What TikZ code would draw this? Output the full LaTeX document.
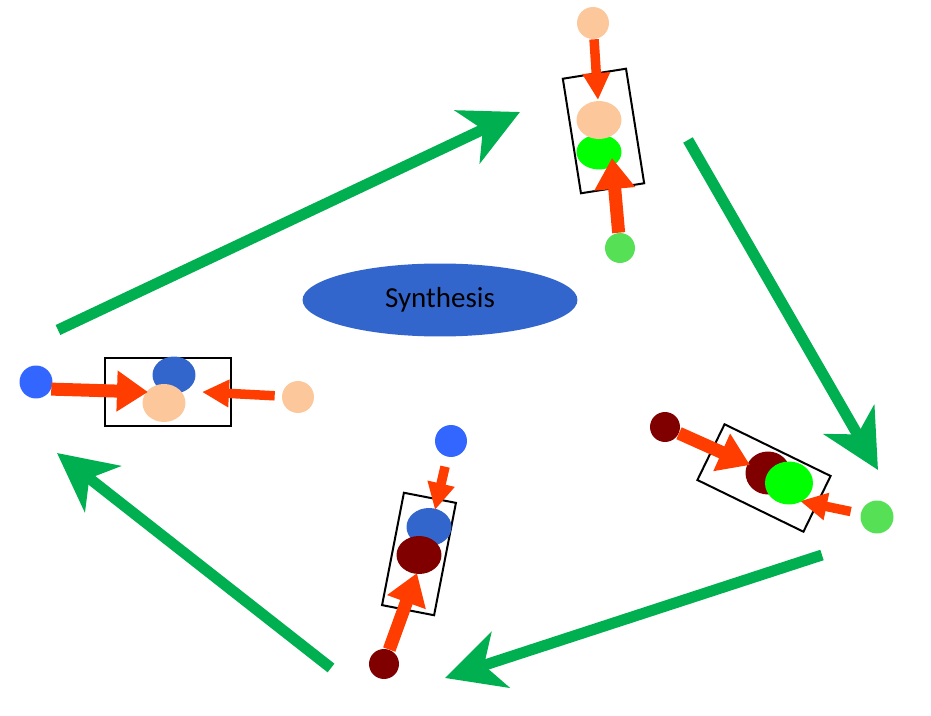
\documentclass[tikz,border=0pt]{standalone}
\usepackage{fontspec}
\setmainfont{Carlito}
\definecolor{scRed}{HTML}{FF3D00}
\definecolor{scPeach}{HTML}{FCC89B}
\definecolor{scLime}{HTML}{00FF00}
\definecolor{scLightGreen}{HTML}{55E055}
\definecolor{scBlue}{HTML}{3366FF}
\definecolor{scDeepBlue}{HTML}{3366CC}
\definecolor{scMaroon}{HTML}{800000}
\definecolor{scGreen}{HTML}{00B050}
\usetikzlibrary{arrows.meta,shapes.geometric}

\begin{document}
\begin{tikzpicture}[x=0.02cm, y=-0.02cm,
  atom/.style={circle, minimum size=0.64cm, inner sep=0pt, fill=#1},
  pair/.style={ellipse, minimum width=0.9cm, minimum height=0.76cm, inner sep=0pt, fill=#1},
  frame/.style={draw=black, line width=0.04cm, inner sep=0pt},
  pushbig/.style={scRed, line width=0.26cm, -{Triangle[length=0.62cm, width=0.78cm]}},
  pushsmall/.style={scRed, line width=0.19cm, -{Triangle[length=0.54cm, width=0.52cm]}},
  cycle/.style={scGreen, line width=0.22cm, -{Stealth[length=1.16cm, width=1.16cm, inset=0.34cm]}}]
  \useasboundingbox (0,0) rectangle (931,716);

  % centre label
  \node[ellipse, fill=scDeepBlue, minimum width=5.5cm, minimum height=1.46cm] (synth) at (440,300)
    {\fontsize{16.5}{20}\selectfont Synthesis};

  % top group
  \node[frame, minimum width=1.28cm, minimum height=2.32cm, rotate=9] (boxTop) at (603.5,131) {};
  \node[pair=scLime, minimum height=0.7cm] (tgreenE) at (599,152) {};
  \node[pair=scPeach] (tpeachE) at (599,120) {};
  \node[atom=scPeach] (tpeachC) at (593,23) {};
  \node[atom=scLightGreen, minimum size=0.6cm] (tgreenC) at (620,248) {};
  \coordinate (tTipA) at (598,100);
  \coordinate (tTipB) at (612,158);
  \draw[pushsmall] (tpeachC) -- (tTipA);
  \draw[pushbig] (tgreenC) -- (tTipB);

  % left group
  \node[frame, minimum width=2.52cm, minimum height=1.36cm] (boxLeft) at (168,392) {};
  \node[pair=scDeepBlue, minimum width=0.86cm, minimum height=0.74cm] (lblueE) at (174,375) {};
  \node[pair=scPeach, minimum width=0.86cm] (lpeachE) at (164,403) {};
  \node[atom=scBlue, minimum size=0.66cm] (lblueC) at (36,382) {};
  \node[atom=scPeach] (lpeachC) at (298,397) {};
  \coordinate (lTipA) at (148,392);
  \coordinate (lTipB) at (202,392);
  \draw[pushbig] (lblueC.-25) -- (lTipA);
  \draw[pushsmall, shorten <=0.14cm] (lpeachC) -- (lTipB);

  % right group
  \node[frame, minimum width=2.36cm, minimum height=1.24cm, rotate=-26] (boxRight) at (764,478) {};
  \node[pair=scMaroon, minimum height=0.86cm] (rredE) at (768,473) {};
  \node[atom=scMaroon, minimum size=0.6cm] (rredC) at (665,427) {};
  \coordinate (rTipA) at (750,465);
  \coordinate (rTipB) at (800,501);
  \draw[pushbig] (rredC) -- (rTipA);
  \node[atom=scLightGreen, minimum size=0.66cm] (rgreenC) at (877,517) {};
  \draw[pushsmall, shorten <=0.2cm] (rgreenC) -- (rTipB);
  \node[pair=scLime, minimum width=0.96cm, minimum height=0.86cm] (rgreenE) at (789,483) {};

  % bottom group
  \node[frame, minimum width=1.06cm, minimum height=2.29cm, rotate=-11] (boxBottom) at (419,554) {};
  \node[pair=scDeepBlue] (bblueE) at (429,527) {};
  \node[pair=scMaroon] (bredE) at (419,555) {};
  \node[atom=scBlue] (bblueC) at (451,441) {};
  \node[atom=scMaroon, minimum size=0.6cm] (bredC) at (384,664) {};
  \coordinate (bTipA) at (435,510);
  \coordinate (bTipB) at (417,573);
  \draw[pushsmall, shorten <=0.2cm] (bblueC) -- (bTipA);
  \draw[pushbig] (bredC) -- (bTipB);

  % cycle arrows
  \coordinate (cycA) at (58,330);   \coordinate (cycAend) at (520,112);
  \coordinate (cycB) at (688,140);  \coordinate (cycBend) at (878,470);
  \coordinate (cycC) at (822,555);  \coordinate (cycCend) at (445,678);
  \coordinate (cycD) at (331,668);  \coordinate (cycDend) at (57,453);
  \draw[cycle] (cycA) -- (cycAend);
  \draw[cycle] (cycB) -- (cycBend);
  \draw[cycle] (cycC) -- (cycCend);
  \draw[cycle] (cycD) -- (cycDend);
\end{tikzpicture}
\end{document}
